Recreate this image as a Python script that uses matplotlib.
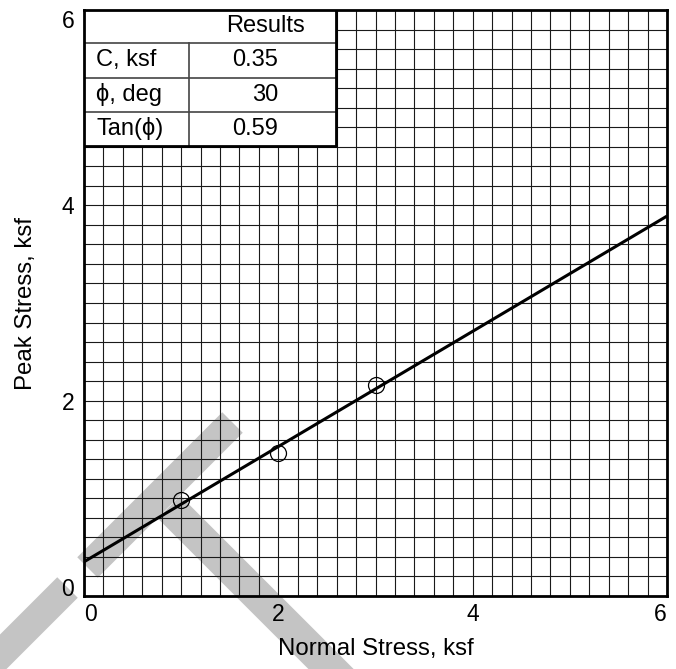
import numpy as np
import matplotlib
matplotlib.use("Agg")
import matplotlib.pyplot as plt
from matplotlib.patches import Polygon, Rectangle

plt.rcParams['font.family'] = ['Liberation Sans', 'DejaVu Sans']

# test points (normal stress vs peak stress), ksf
normal_stress = [1.0, 2.0, 3.0]
peak_stress = [0.98, 1.46, 2.16]

# strength envelope results
cohesion = 0.35
phi_deg = 30
tan_phi = 0.59

row_labels = ["C, ksf", "\u03d5, deg", "Tan(\u03d5)"]
row_values = [f"{cohesion:.2f}", f"{phi_deg:d}", f"{tan_phi:.2f}"]

W, H = 676, 669
fig = plt.figure(figsize=(W / 100, H / 100), dpi=100)
fig.patch.set_facecolor('white')

# axes box in pixels: left 84, right 667, top 10, bottom 596
ax = fig.add_axes([84 / W, 1 - 596 / H, 583 / W, 586 / H])
ax.set_facecolor('none')


def band(p0, p1, width, color='#c4c4c4'):
    """Grey band between two pixel points (y measured from the top)."""
    p0 = np.array(p0, float)
    p1 = np.array(p1, float)
    d = p1 - p0
    n = np.array([-d[1], d[0]]) / np.hypot(*d) * width / 2
    pts = [p0 + n, p1 + n, p1 - n, p0 - n]
    pts = [(x / W, 1 - y / H) for x, y in pts]
    fig.patches.append(Polygon(pts, closed=True, transform=fig.transFigure,
                               facecolor=color, edgecolor='none', zorder=-1))


# rotated "T" stamp behind the grid
band((232.5, 422.5), (87.5, 567.5), 29)
band((67.5, 587.5), (-80, 735), 29)
band((169, 507), (390, 728), 32)

ax.set_xlim(0, 6)
ax.set_ylim(0, 6)
ax.set_xticks([0, 2, 4, 6])
ax.set_yticks([0, 2, 4, 6])
ax.set_xticks(np.arange(0, 6.01, 0.2), minor=True)
ax.set_yticks(np.arange(0, 6.01, 0.2), minor=True)
ax.grid(True, which='both', color='#1a1a1a', linewidth=0.8)
ax.set_axisbelow(True)
ax.tick_params(which='both', length=0, labelsize=16.5)
ax.tick_params(axis='x', pad=5)
ax.tick_params(axis='y', pad=7)
for s in ax.spines.values():
    s.set_linewidth(2)
    s.set_zorder(6)

xl = ax.get_xticklabels()
xl[0].set_ha('left')
xl[-1].set_ha('right')
yl = ax.get_yticklabels()
yl[0].set_va('baseline')
yl[-1].set_va('top')

ax.set_xlabel("Normal Stress, ksf", fontsize=17.3)
ax.set_ylabel("Peak Stress, ksf", fontsize=17.3)
ax.xaxis.set_label_coords(0.5, -0.072)
ax.yaxis.set_label_coords(-0.081, 0.5)

# fitted envelope and test points
xs = np.array([0.0, 6.0])
ax.plot(xs, cohesion + tan_phi * xs, color='black', linewidth=2.2, zorder=4,
        solid_capstyle='butt')
ax.plot(normal_stress, peak_stress, linestyle='none', marker='o',
        markersize=11.5, markerfacecolor='none', markeredgecolor='black',
        markeredgewidth=0.9, zorder=5)

# results box, axes-fraction layout
tb_right = 0.432
col_div = 0.180
rows = [1.0, 0.9437, 0.884, 0.826, 0.768]
ax.add_patch(Rectangle((0, rows[-1]), tb_right, 1 - rows[-1],
                       transform=ax.transAxes, facecolor='white',
                       edgecolor='none', zorder=5))
for y in rows[1:-1]:
    ax.plot([0, tb_right], [y, y], transform=ax.transAxes, color='#444444',
            linewidth=1.2, zorder=6)
ax.plot([col_div, col_div], [rows[1], rows[-1]], transform=ax.transAxes,
        color='#444444', linewidth=1.2, zorder=6)
ax.plot([0, tb_right, tb_right], [rows[-1], rows[-1], 1],
        transform=ax.transAxes, color='black', linewidth=2, zorder=6)

ax.text(0.312, (rows[0] + rows[1]) / 2, "Results", transform=ax.transAxes,
        ha='center', va='center', fontsize=17, zorder=7)
for i, (lab, val) in enumerate(zip(row_labels, row_values)):
    yc = (rows[i + 1] + rows[i + 2]) / 2
    ax.text(0.0206, yc, lab, transform=ax.transAxes, ha='left', va='center',
            fontsize=17, zorder=7)
    ax.text(0.333, yc, val, transform=ax.transAxes, ha='right', va='center',
            fontsize=17, zorder=7)

fig.savefig("out.png", dpi=100)
